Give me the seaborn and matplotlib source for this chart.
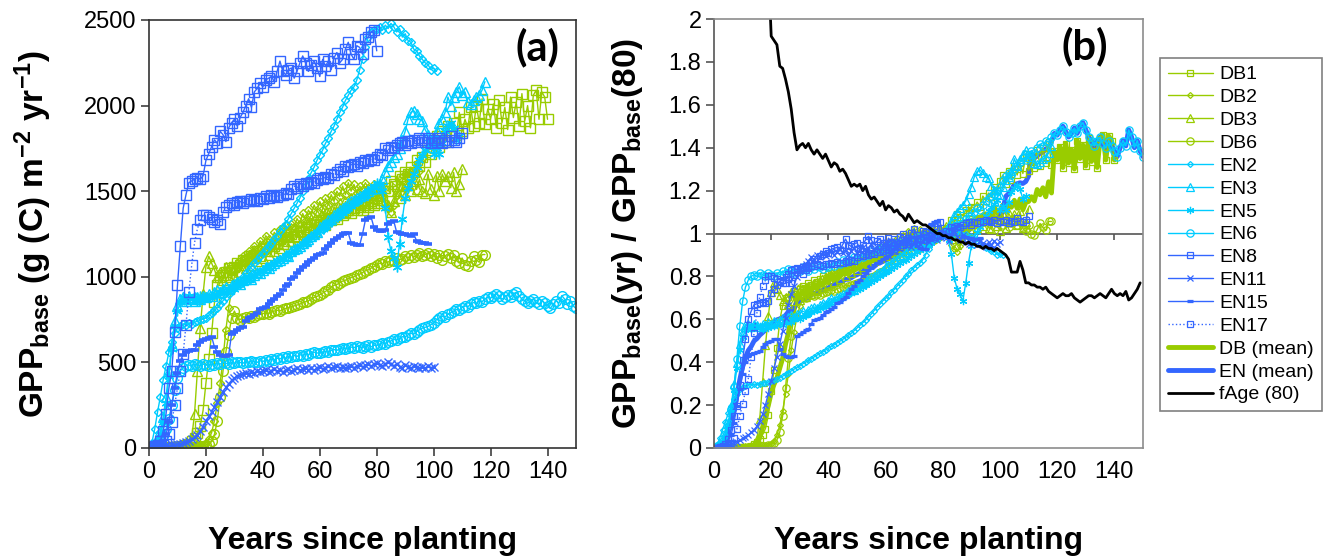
import numpy as np
import pandas as pd
import matplotlib
matplotlib.use("Agg")
import matplotlib.pyplot as plt
import seaborn as sns
from matplotlib.ticker import FuncFormatter

sns.set_theme(style="white")
plt.rcParams["font.family"] = ["Liberation Sans", "DejaVu Sans"]
plt.rcParams["mathtext.default"] = "regular"
for k in ["text.color", "axes.labelcolor", "xtick.color", "ytick.color"]:
    plt.rcParams[k] = "black"

# ---------------- data (GPP_base, g C m-2 yr-1, one value per year since planting) -------------
DB1 = [0, 0, 0, 0, 1, 1, 2, 2, 3, 4, 5, 7, 10, 15, 25, 40, 60, 90,
       130, 220, 380, 520, 670, 850, 950, 1000,
       1010, 1030, 1050, 1040, 1060, 1080, 1070, 1100, 1090, 1120, 1110, 1130, 1150, 1120, 1160,
       1170, 1150, 1190, 1180, 1200, 1220, 1190, 1230, 1210, 1250, 1240, 1230, 1270, 1260, 1290, 1280, 1300, 1270, 1320, 1310,
       1330, 1300, 1340, 1330, 1350, 1340, 1370, 1360, 1380, 1390, 1370, 1400, 1390, 1410, 1390, 1420, 1410, 1430, 1420, 1430,
       1470, 1450, 1520, 1500, 1560, 1540, 1530, 1590, 1570, 1610, 1600, 1640, 1610, 1680, 1650, 1700, 1670, 1740, 1720, 1780,
       1820, 1760, 1850, 1790, 1880, 1820, 1900, 1830, 1960, 1850, 1920, 1870, 1990, 1880, 2000, 1900, 2040, 1890, 1980, 1920,
       2010, 1870, 2030, 1900, 1990, 1860, 2050, 1930, 2020, 1880, 2070, 1910, 2000, 1870, 2060, 2090, 1920, 2080, 2050, 1920]
DB2 = [0, 0, 0, 0, 0, 1, 1, 1, 2, 2, 3, 3, 4, 5, 6, 8, 10, 12, 15, 20, 30,
       50, 90, 160, 260, 380, 520, 690, 820, 920, 1000,
       1050, 1080, 1120, 1090, 1150, 1130, 1180, 1160, 1210, 1190, 1240, 1220, 1200, 1260, 1240, 1280, 1230, 1300, 1270, 1310,
       1290, 1340, 1310, 1370, 1330, 1390, 1360, 1420, 1380, 1440, 1400, 1460, 1420, 1480, 1440, 1500, 1470, 1530, 1480, 1550,
       1500, 1540, 1490, 1530, 1510, 1550, 1520, 1480, 1540, 1510, 1500, 1470, 1430, 1400, 1380, 1420, 1480, 1530, 1560, 1600,
       1580, 1620, 1600, 1640, 1620]
DB3 = [0, 0, 0, 0, 0, 0, 1, 1, 2, 3, 4, 6, 9, 14,
       25, 60, 200, 450, 700, 900, 1060, 1120, 1080, 1040, 1000, 1030, 980, 1060, 1000, 1050,
       1010, 1080, 1030, 1100, 1050, 1120, 1070, 1140, 1090, 1160, 1110, 1180, 1130, 1200, 1150, 1220, 1170, 1240, 1190, 1260,
       1210, 1280, 1230, 1300, 1250, 1320, 1270, 1340, 1290, 1360, 1310, 1380, 1330, 1400, 1340, 1410, 1360, 1430, 1380, 1440,
       1390, 1460, 1400, 1470, 1420, 1480, 1430, 1490, 1440, 1500, 1460, 1510, 1450, 1520, 1420, 1380, 1440, 1500, 1460, 1530,
       1480, 1540, 1500, 1560, 1510, 1570, 1500, 1490, 1600, 1510, 1480, 1590, 1500, 1600, 1560, 1590, 1520, 1610, 1500, 1540,
       1630]
DB6 = [0, 0, 0, 0, 0, 0, 0, 1, 1, 1, 2, 2, 3, 3, 4, 5, 6, 8, 10, 13, 17, 25, 40,
       80, 160, 300, 450, 560, 660, 760, 800, 760, 750, 760, 765, 760, 770, 765, 775, 780, 785,
       790, 785, 795, 800, 805, 800, 810, 815, 820, 825, 830, 835, 840, 850, 855, 860, 870, 880, 885, 895,
       905, 915, 925, 940, 950, 955, 965, 975, 980, 990, 995, 1000, 1010, 1015, 1025, 1035, 1040, 1050, 1060, 1070,
       1080, 1075, 1090, 1085, 1100, 1090, 1110, 1100, 1105, 1120, 1110, 1130, 1115, 1125, 1140, 1120, 1130, 1140, 1120, 1135,
       1110, 1125, 1100, 1120, 1135, 1110, 1125, 1095, 1080, 1110, 1070, 1065, 1090, 1120, 1100, 1085, 1130, 1130]
EN2 = [0, 30, 110, 210, 300, 400, 480, 560, 620, 670, 700, 715, 725, 720, 730, 725, 735, 740, 745, 755, 760,
       775, 790, 805, 820, 840, 860, 880, 900, 920, 940, 960, 980, 1000, 1020, 1040, 1060, 1080, 1100, 1120, 1140,
       1160, 1180, 1200, 1220, 1240, 1265, 1290, 1310, 1340, 1370, 1400, 1430, 1460, 1500, 1530, 1570, 1610, 1640, 1680, 1710,
       1740, 1780, 1810, 1850, 1880, 1920, 1960, 1990, 2030, 2060, 2090, 2110, 2150, 2210, 2270, 2340, 2400, 2430, 2440, 2450,
       2460, 2440, 2470, 2450, 2480, 2460, 2430, 2450, 2400, 2420, 2380, 2370, 2330, 2320, 2290, 2270, 2250, 2240, 2210, 2220,
       2200]
EN3 = [0, 5, 20, 50, 100, 180, 300, 450, 600, 740, 830, 870, 880, 860, 880, 870, 860, 880, 870, 890, 880,
       900, 890, 910, 920, 910, 930, 940, 930, 950, 960, 970, 960, 980, 990, 1000, 990, 1010, 1030, 1020, 1040,
       1060, 1050, 1070, 1080, 1090, 1100, 1110, 1130, 1120, 1150, 1160, 1170, 1180, 1200, 1210, 1220, 1240, 1250, 1260, 1290,
       1300, 1310, 1330, 1340, 1360, 1370, 1390, 1400, 1410, 1430, 1440, 1450, 1460, 1470, 1480, 1490, 1500, 1510, 1520, 1520,
       1540, 1570, 1610, 1650, 1670, 1700, 1720, 1750, 1800, 1850, 1920, 1960, 1970, 1950, 1920, 1910, 1860, 1830, 1800, 1790,
       1850, 1900, 1920, 1960, 2050, 2000, 2050, 2080, 2110, 2060, 2080, 2020, 2010, 2030, 2050, 2060, 2090, 2140]
EN5 = [0, 5, 15, 40, 80, 150, 260, 420, 580, 710, 800, 850, 880, 860, 890, 870, 880, 860, 890, 870, 880,
       880, 890, 900, 890, 910, 920, 910, 930, 940, 930, 950, 960, 970, 980, 990, 1000, 1010, 1020, 1030, 1040,
       1050, 1060, 1070, 1080, 1090, 1100, 1110, 1120, 1130, 1140, 1150, 1160, 1175, 1190, 1200, 1215, 1230, 1240, 1255, 1270,
       1280, 1295, 1310, 1320, 1335, 1350, 1360, 1375, 1390, 1400, 1415, 1430, 1440, 1455, 1470, 1480, 1500, 1510, 1530, 1550,
       1540, 1500, 1400, 1230, 1150, 1110, 1060, 1190, 1340, 1460, 1520, 1560, 1600, 1640, 1680, 1710, 1740, 1760, 1790, 1720,
       1750, 1720, 1780, 1850, 1880, 1900, 1870, 1800, 1820]
EN6 = [0, 5, 10, 20, 40, 70, 110, 170, 250, 340, 410, 450, 470, 480, 485, 480, 490, 485, 480, 490, 485,
       480, 490, 485, 495, 490, 500, 495, 490, 500, 495, 505, 500, 495, 505, 500, 510, 505, 500, 510, 505,
       515, 510, 520, 515, 525, 520, 530, 525, 535, 530, 540, 535, 545, 540, 550, 545, 555, 560, 555, 555,
       560, 565, 560, 570, 575, 570, 580, 585, 580, 585, 590, 585, 595, 590, 585, 595, 600, 590, 600, 600,
       605, 615, 610, 620, 625, 635, 630, 640, 650, 650, 660, 670, 665, 680, 690, 700, 705, 710, 720, 730,
       750, 760, 770, 765, 780, 790, 800, 810, 805, 820, 830, 825, 840, 850, 845, 860, 855, 870, 880, 875,
       890, 900, 885, 870, 880, 895, 880, 900, 910, 890, 870, 860, 845, 860, 870, 850, 840, 860, 845, 830,
       815, 840, 860, 845, 890, 870, 840, 860, 830, 815]
EN8 = [0, 5, 10, 20, 40, 100, 200, 350, 450, 680, 950, 1180, 1400, 1480, 1550, 1560, 1570, 1580, 1570, 1590, 1680,
       1720, 1760, 1800, 1780, 1850, 1830, 1790, 1870, 1900, 1920, 1880, 1930, 1960, 2000, 2040, 1990, 2080, 2100, 2130, 2110,
       2150, 2160, 2170, 2140, 2200, 2260, 2200, 2180, 2210, 2220, 2160, 2200, 2250, 2290, 2250, 2200, 2240, 2260, 2220, 2170,
       2270, 2230, 2260, 2210, 2280, 2310, 2250, 2270, 2330, 2370, 2300, 2270, 2350, 2340, 2300, 2390, 2400, 2430, 2440, 2320]
EN11 = [0, 0, 2, 4, 6, 8, 10, 12, 15, 18, 22, 26, 30, 36, 42, 50, 62, 78, 100, 125, 155,
        185, 210, 240, 270, 300, 330, 355, 375, 395, 410, 420, 425, 432, 440, 435, 445, 440, 450, 442, 448,
        455, 445, 452, 460, 450, 458, 445, 455, 462, 450, 458, 465, 455, 462, 470, 458, 465, 455, 468, 475,
        462, 470, 478, 465, 472, 480, 468, 475, 465, 472, 480, 470, 478, 485, 475, 482, 490, 480, 488, 495,
        485, 478, 490, 500, 488, 480, 492, 475, 470, 482, 475, 468, 478, 472, 465, 475, 468, 478, 470, 475]
EN15 = [0, 2, 5, 10, 20, 40, 80, 150, 250, 350, 440, 510, 545, 560, 565, 570, 575, 600, 620, 630, 635,
        645, 650, 590, 560, 545, 540, 540, 545, 665, 680, 690, 700, 705, 740, 760, 765, 775, 790, 810, 815,
        825, 840, 860, 870, 885, 900, 920, 945, 960, 985, 1000, 1020, 1040, 1060, 1070, 1085, 1100, 1110, 1125, 1135,
        1140, 1160, 1180, 1200, 1215, 1225, 1240, 1250, 1255, 1255, 1200, 1190, 1185, 1185, 1250, 1330, 1345, 1350, 1290, 1275,
        1270, 1270, 1275, 1310, 1320, 1325, 1260, 1255, 1250, 1250, 1245, 1240, 1250, 1210, 1205, 1200, 1195, 1190]
EN17 = [0, 2, 5, 8, 12, 20, 40, 80, 150, 250, 350, 450, 550, 720, 910, 1070, 1200, 1280, 1330, 1360, 1360,
        1350, 1340, 1320, 1330, 1310, 1380, 1410, 1420, 1430, 1420, 1435, 1440, 1430, 1445, 1440, 1455, 1450, 1445, 1460, 1455,
        1470, 1460, 1475, 1470, 1468, 1480, 1475, 1490, 1485, 1510, 1530, 1520, 1540, 1530, 1545, 1540, 1555, 1550, 1565, 1575,
        1570, 1585, 1580, 1600, 1595, 1610, 1630, 1620, 1650, 1640, 1655, 1660, 1650, 1670, 1665, 1680, 1675, 1690, 1680, 1700,
        1720, 1710, 1750, 1740, 1760, 1755, 1770, 1780, 1790, 1770, 1795, 1780, 1800, 1790, 1810, 1800, 1790, 1810, 1780, 1800,
        1790, 1810, 1780, 1800, 1790, 1820, 1800, 1790, 1810, 1840]

# fAge(80) from year 19 to year 150
FAGE_START = 19
FAGE = [2.25, 1.92, 1.90, 1.88, 1.78, 1.77, 1.72, 1.66, 1.58, 1.47, 1.39, 1.41, 1.42, 1.40, 1.42, 1.39, 1.37, 1.39, 1.37, 1.35,
        1.37, 1.34, 1.31, 1.33, 1.32, 1.29, 1.30, 1.28, 1.25, 1.22, 1.23, 1.22, 1.23, 1.20, 1.22, 1.18, 1.16, 1.17, 1.15, 1.13,
        1.15, 1.11, 1.13, 1.12, 1.10, 1.11, 1.09, 1.08, 1.06, 1.09, 1.07, 1.05, 1.06, 1.05, 1.04, 1.04, 1.03, 1.02, 1.01, 1.00,
        1.00, 0.99, 0.99, 0.98, 0.98, 0.97, 0.97, 0.96, 0.96, 0.95, 0.96, 0.95, 0.95, 0.94, 0.94, 0.93, 0.94, 0.93, 0.93, 0.92,
        0.93, 0.92, 0.91, 0.90, 0.88, 0.82, 0.82, 0.82, 0.87, 0.83, 0.77, 0.77, 0.76, 0.76, 0.75, 0.75, 0.74, 0.75, 0.73, 0.72,
        0.71, 0.70, 0.71, 0.72, 0.71, 0.71, 0.72, 0.70, 0.69, 0.68, 0.69, 0.70, 0.71, 0.71, 0.70, 0.71, 0.72, 0.71, 0.70, 0.72,
        0.74, 0.72, 0.71, 0.72, 0.71, 0.73, 0.69, 0.70, 0.72, 0.74, 0.77]

REF_YEAR = 80
SITES = ["DB1", "DB2", "DB3", "DB6", "EN2", "EN3", "EN5", "EN6", "EN8", "EN11", "EN15", "EN17"]
VALUES = [DB1, DB2, DB3, DB6, EN2, EN3, EN5, EN6, EN8, EN11, EN15, EN17]
X_TICKS = [0, 20, 40, 60, 80, 100, 120, 140]

# ---------------- styles -------------
GREEN, CYAN, BLUE = "#99CC00", "#00CCFF", "#3366FF"
ASTER = (6, 2, 0)
STYLE = {
    "DB1": (GREEN, "s", 6.5, "-"), "DB2": (GREEN, "D", 4.0, "-"),
    "DB3": (GREEN, "^", 7.0, "-"), "DB6": (GREEN, "o", 7.0, "-"),
    "EN2": (CYAN, "D", 4.0, "-"), "EN3": (CYAN, "^", 7.0, "-"),
    "EN5": (CYAN, ASTER, 7.0, "-"), "EN6": (CYAN, "o", 7.0, "-"),
    "EN8": (BLUE, "s", 6.5, "-"), "EN11": (BLUE, "x", 5.5, "-"),
    "EN15": (BLUE, "_", 6.0, "-"), "EN17": (BLUE, "s", 6.5, ":"),
}

frames = []
for name, vals in zip(SITES, VALUES):
    v = np.asarray(vals, dtype=float)
    frames.append(pd.DataFrame({"site": name, "year": np.arange(len(v)),
                                "gpp": v, "ratio": v / v[REF_YEAR]}))
df = pd.concat(frames, ignore_index=True)
df["group"] = df["site"].str[:2]
mean_df = (df.groupby(["group", "year"])["ratio"].mean().reset_index())
fage_df = pd.DataFrame({"year": np.arange(FAGE_START, FAGE_START + len(FAGE)), "fage": FAGE})

# ---------------- figure -------------
fig = plt.figure(figsize=(13.35, 5.57), dpi=100)
ax_a = fig.add_axes([149 / 1335, 109 / 557, 427 / 1335, 428 / 557])
ax_b = fig.add_axes([714 / 1335, 109 / 557, 429 / 1335, 429 / 557])

def draw(ax, col, scale):
    for name in SITES:
        c, m, ms, ls = STYLE[name]
        sub = df[df["site"] == name]
        mew = 2.6 if m == "_" else 1.0
        sns.lineplot(data=sub, x="year", y=col, ax=ax, color=c, marker=m,
                     markersize=ms * scale, markerfacecolor="none", markeredgecolor=c,
                     markeredgewidth=mew * (0.9 if scale < 1 else 1.0), linewidth=1.0, linestyle=ls,
                     label=name, legend=False, errorbar=None, sort=False)

draw(ax_a, "gpp", 1.0)

# panel (b): means underneath, then sites, then fAge
sns.lineplot(data=mean_df[mean_df["group"] == "DB"], x="year", y="ratio", ax=ax_b,
             color=GREEN, linewidth=3.5, label="DB (mean)", legend=False, errorbar=None)
sns.lineplot(data=mean_df[mean_df["group"] == "EN"], x="year", y="ratio", ax=ax_b,
             color=BLUE, linewidth=3.5, label="EN (mean)", legend=False, errorbar=None)
draw(ax_b, "ratio", 0.75)
sns.lineplot(data=fage_df, x="year", y="fage", ax=ax_b, color="black", linewidth=2.0,
             label="fAge (80)", legend=False, errorbar=None)

TICK_FS = 17
XLABEL_FS = 23
YLABEL_FS = 24

# panel (a)
ax_a.set_xlim(0, 150)
ax_a.set_ylim(0, 2500)
ax_a.set_xticks(X_TICKS)
ax_a.set_yticks(range(0, 2501, 500))
ax_a.tick_params(axis="both", direction="out", length=6, width=1.2, color="#404040",
                 labelsize=TICK_FS, pad=3, bottom=True, left=True)
for s in ax_a.spines.values():
    s.set_visible(True)
    s.set_color("#333333")
    s.set_linewidth(1.2)
ax_a.set_xlabel("Years since planting", fontsize=XLABEL_FS, fontweight="bold", labelpad=31)
ax_a.set_ylabel("GPP$_{base}$ (g (C) m$^{-2}$ yr$^{-1}$)", fontsize=YLABEL_FS, fontweight="bold")
ax_a.yaxis.set_label_coords(-0.222, 0.5)
ax_a.text(0.91, 0.935, "(a)", transform=ax_a.transAxes, ha="center", va="center",
          fontsize=30, fontweight="bold", family=["Lato", "DejaVu Sans"])
ax_a.grid(False)

# panel (b)
ax_b.set_xlim(0, 150)
ax_b.set_ylim(0, 2)
ax_b.set_xticks(X_TICKS)
ax_b.set_yticks(np.round(np.arange(0, 2.01, 0.2), 1))
ax_b.yaxis.set_major_formatter(FuncFormatter(lambda v, p: f"{v:g}"))
ax_b.tick_params(axis="y", direction="out", length=6, width=1.2, color="#555555",
                 labelsize=TICK_FS, pad=3, left=True)
ax_b.tick_params(axis="x", length=0, labelsize=TICK_FS, pad=9, bottom=True)
for s in ax_b.spines.values():
    s.set_visible(True)
    s.set_color("#8c8c8c")
    s.set_linewidth(1.2)
ax_b.spines["left"].set_color("#555555")
ax_b.axhline(1.0, color="#555555", linewidth=1.2, zorder=0.5)
ax_b.vlines(X_TICKS[1:], 1.0 - 0.032, 1.0, color="#555555", linewidth=1.2, zorder=0.5)
ax_b.set_xlabel("Years since planting", fontsize=XLABEL_FS, fontweight="bold", labelpad=31)
ax_b.set_ylabel("GPP$_{base}$(yr) / GPP$_{base}$(80)", fontsize=YLABEL_FS, fontweight="bold")
ax_b.yaxis.set_label_coords(-0.16, 0.5)
ax_b.text(0.865, 0.935, "(b)", transform=ax_b.transAxes, ha="center", va="center",
          fontsize=30, fontweight="bold", family=["Lato", "DejaVu Sans"])
ax_b.grid(False)

handles, labels = ax_b.get_legend_handles_labels()
order = SITES + ["DB (mean)", "EN (mean)", "fAge (80)"]
hmap = dict(zip(labels, handles))
leg = fig.legend([hmap[l] for l in order], order, loc="upper left",
                 bbox_to_anchor=(1160 / 1335, 1 - 58 / 557),
                 bbox_transform=fig.transFigure, fontsize=14, frameon=True, fancybox=False,
                 edgecolor="#808080", framealpha=1.0, borderpad=0.4, labelspacing=0.27,
                 handlelength=2.3, handletextpad=0.35, borderaxespad=0.0, numpoints=1)
leg.get_frame().set_linewidth(1.2)

fig.savefig("out.png", dpi=100)
